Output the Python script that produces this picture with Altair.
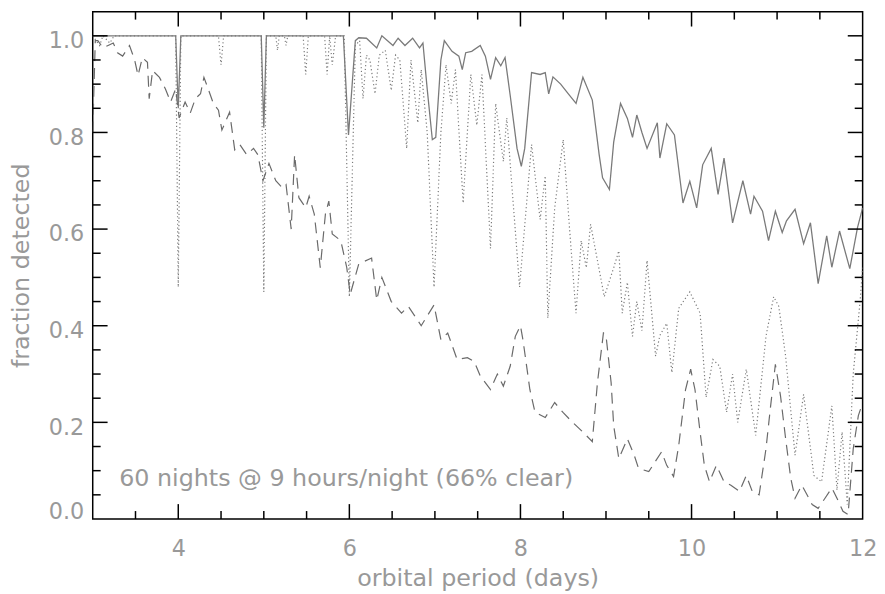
import altair as alt
import pandas as pd

# ---------------- data ----------------
solid_x = [3.0, 3.97, 4.0, 4.03, 4.97, 5.0, 5.03, 5.93, 5.99, 6.07, 6.11, 6.2, 6.32, 6.38, 6.51, 6.57,
           6.65, 6.74, 6.82, 6.86, 6.91, 6.97, 7.01, 7.07, 7.11, 7.20, 7.28, 7.32, 7.36, 7.43, 7.53,
           7.59, 7.65, 7.71, 7.77, 7.82, 7.88, 7.96, 8.01, 8.05, 8.13, 8.23, 8.29, 8.33, 8.38, 8.47,
           8.56, 8.65, 8.73, 8.84, 8.92, 8.96, 9.04, 9.09, 9.17, 9.25, 9.31, 9.36, 9.42, 9.48, 9.60,
           9.63, 9.71, 9.80, 9.90, 9.98, 10.06, 10.13, 10.23, 10.31, 10.38, 10.48, 10.60, 10.69,
           10.73, 10.83, 10.90, 10.98, 11.06, 11.11, 11.21, 11.31, 11.39, 11.48, 11.58, 11.64,
           11.73, 11.85, 11.94, 12.0]
solid_y = [1.0, 1.0, 0.85, 1.0, 1.0, 0.81, 1.0, 1.0, 0.795, 0.99, 0.996, 0.995, 0.975, 1.0, 0.98, 0.995,
           0.98, 0.995, 0.975, 0.985, 0.89, 0.785, 0.79, 0.95, 0.99, 0.968, 0.958, 0.93, 0.965, 0.968, 0.98,
           0.958, 0.91, 0.955, 0.938, 0.955, 0.877, 0.767, 0.73, 0.767, 0.924, 0.92, 0.924, 0.88, 0.915, 0.90,
           0.88, 0.86, 0.914, 0.867, 0.754, 0.706, 0.682, 0.78, 0.86, 0.829, 0.79, 0.836, 0.80, 0.767, 0.82,
           0.747, 0.818, 0.795, 0.654, 0.699, 0.644, 0.733, 0.767, 0.672, 0.747, 0.613, 0.70, 0.631,
           0.668, 0.637, 0.576, 0.637, 0.593, 0.617, 0.641, 0.57, 0.613, 0.487, 0.586, 0.521,
           0.596, 0.518, 0.603, 0.644]

dotted_x = [3.0, 3.08, 3.12, 3.2, 3.25, 3.97, 4.0, 4.03, 4.47, 4.5, 4.53, 4.97, 5.0, 5.03, 5.14, 5.16,
            5.18, 5.24, 5.26, 5.28, 5.46, 5.49, 5.52, 5.71, 5.74, 5.77, 5.80, 5.84, 5.94, 6.0, 6.07,
            6.12, 6.16, 6.20, 6.24, 6.30, 6.35, 6.42, 6.49, 6.54, 6.59, 6.67, 6.72, 6.80, 6.84, 6.91,
            6.99, 7.07, 7.13, 7.19, 7.24, 7.33, 7.42, 7.49, 7.55, 7.65, 7.71, 7.80, 7.84, 7.99, 8.13,
            8.23, 8.29, 8.32, 8.40, 8.50, 8.57, 8.65, 8.71, 8.77, 8.82, 8.98, 9.09, 9.15, 9.19, 9.25,
            9.31, 9.36, 9.42, 9.48, 9.58, 9.63, 9.71, 9.77, 9.85, 9.98, 10.10, 10.17, 10.25, 10.33,
            10.41, 10.48, 10.54, 10.64, 10.75, 10.87, 10.96, 11.02, 11.10, 11.21, 11.31, 11.43,
            11.52, 11.64, 11.70, 11.76, 11.82, 11.89, 11.97, 12.0]
dotted_y = [1.0, 0.98, 1.0, 0.985, 1.0, 1.0, 0.48, 1.0, 1.0, 0.94, 1.0, 1.0, 0.47, 1.0, 1.0, 0.97,
            1.0, 1.0, 0.98, 1.0, 1.0, 0.92, 1.0, 1.0, 0.92, 1.0, 0.94, 1.0, 1.0, 0.46, 0.98,
            0.99, 0.87, 0.96, 0.95, 0.88, 0.96, 0.97, 0.887, 0.96, 0.95, 0.767, 0.95, 0.82, 0.93, 0.80,
            0.48, 0.80, 0.94, 0.86, 0.93, 0.654, 0.92, 0.815, 0.92, 0.56, 0.86, 0.74, 0.83, 0.48, 0.775,
            0.62, 0.71, 0.416, 0.644, 0.785, 0.61, 0.426, 0.576, 0.52, 0.61, 0.46, 0.52, 0.555, 0.426, 0.49,
            0.378, 0.45, 0.39, 0.535, 0.337, 0.38, 0.405, 0.303, 0.436, 0.47, 0.426, 0.252, 0.33, 0.316,
            0.221, 0.30, 0.20, 0.31, 0.173, 0.378, 0.46, 0.44, 0.337, 0.132, 0.258, 0.09,
            0.077, 0.234, 0.06, 0.18, 0.03, 0.30, 0.45, 0.52]

dashed_x = [3.0, 3.03, 3.06, 3.12, 3.18, 3.24, 3.29, 3.35, 3.43, 3.49, 3.53, 3.58, 3.64, 3.66, 3.70,
            3.78, 3.85, 3.91, 3.97, 4.01, 4.08, 4.14, 4.20, 4.26, 4.30, 4.35, 4.41, 4.47, 4.51, 4.60,
            4.66, 4.72, 4.80, 4.88, 4.93, 4.99, 5.06, 5.14, 5.22, 5.26, 5.32, 5.36, 5.41, 5.49, 5.53,
            5.59, 5.66, 5.72, 5.76, 5.80, 5.90, 5.97, 6.01, 6.11, 6.26, 6.32, 6.38, 6.49, 6.61, 6.69,
            6.84, 6.99, 7.07, 7.15, 7.26, 7.38, 7.46, 7.53, 7.65, 7.73, 7.80, 7.88, 7.94, 8.0, 8.03,
            8.11, 8.17, 8.29, 8.40, 8.50, 8.61, 8.73, 8.84, 8.90, 8.97, 9.0, 9.06, 9.09, 9.15, 9.25,
            9.33, 9.38, 9.50, 9.65, 9.71, 9.79, 9.85, 9.93, 9.99, 10.04, 10.10, 10.15, 10.21, 10.29,
            10.38, 10.46, 10.56, 10.64, 10.71, 10.79, 10.87, 10.92, 10.98, 11.04, 11.10, 11.16, 11.21,
            11.29, 11.35, 11.41, 11.48, 11.56, 11.64, 11.70, 11.77, 11.83, 11.89, 11.95, 12.0]
dashed_y = [0.80, 0.99, 0.99, 0.975, 0.98, 0.985, 0.965, 0.958, 0.98, 0.95, 0.918, 0.955, 0.945, 0.87, 0.928,
            0.914, 0.89, 0.863, 0.89, 0.83, 0.863, 0.84, 0.87, 0.88, 0.914, 0.89, 0.86, 0.846, 0.805, 0.842,
            0.764, 0.775, 0.754, 0.767, 0.754, 0.70, 0.736, 0.70, 0.685, 0.692, 0.60, 0.754, 0.665, 0.644, 0.668,
            0.631, 0.52, 0.631, 0.658, 0.59, 0.576, 0.52, 0.465, 0.528, 0.54, 0.453, 0.50, 0.45, 0.426, 0.44,
            0.40, 0.443, 0.371, 0.385, 0.33, 0.334, 0.326, 0.296, 0.268, 0.30, 0.275, 0.316, 0.378, 0.40, 0.37,
            0.268, 0.221, 0.21, 0.241, 0.22, 0.20, 0.18, 0.16, 0.282, 0.385, 0.38, 0.282, 0.193, 0.125, 0.166,
            0.132, 0.105, 0.098, 0.139, 0.111, 0.088, 0.152, 0.268, 0.31, 0.268, 0.18, 0.111, 0.077, 0.111,
            0.077, 0.07, 0.057, 0.09, 0.057, 0.05, 0.145, 0.227, 0.32, 0.255, 0.166, 0.084, 0.043,
            0.07, 0.05, 0.03, 0.022, 0.043, 0.064, 0.043, 0.016, 0.009, 0.145, 0.214, 0.24]

x_labels = [4, 6, 8, 10, 12]
y_labels = [0.0, 0.2, 0.4, 0.6, 0.8, 1.0]
x_major_ticks = [4, 6, 8, 10]
x_minor_ticks = [3.5, 4.5, 5, 5.5, 6.5, 7, 7.5, 8.5, 9, 9.5, 10.5, 11, 11.5]
y_major_ticks = [0.2, 0.4, 0.6, 0.8, 1.0]
y_minor_ticks = [0.05, 0.1, 0.15, 0.25, 0.3, 0.35, 0.45, 0.5, 0.55, 0.65, 0.7, 0.75, 0.85, 0.9, 0.95]

note_text = ["60 nights @ 9 hours/night (66% clear)"]
note_x = [3.31]
note_y = [0.0677]

# ---------------- chart ----------------
W, H = 777, 512
FONT = "DejaVu Sans"
GRAY = "#999999"
LINE = "#7a7a7a"

xs = alt.Scale(domain=[3, 12], nice=False, zero=False)
ys = alt.Scale(domain=[0, 1.05], nice=False, zero=False)

x_axis = alt.Axis(values=x_labels, format="d", ticks=False, tickSize=0, domain=False, grid=False,
                  labelPadding=19, labelFontSize=22.5, labelColor=GRAY, labelFont=FONT, labelFlush=False,
                  title="orbital period (days)", titleFontSize=24, titleColor=GRAY, titleFont=FONT,
                  titleFontWeight="normal", titleBaseline="alphabetic", titleY=67)
y_axis = alt.Axis(values=y_labels, format=".1f", ticks=False, tickSize=0, domain=False, grid=False,
                  labelPadding=9, labelFontSize=22.5, labelColor=GRAY, labelFont=FONT, labelOffset=5,
                  labelFlush=True, labelFlushOffset=0,
                  title="fraction detected", titleFontSize=24, titleColor=GRAY, titleFont=FONT,
                  titleFontWeight="normal", titleBaseline="alphabetic", titleX=-65, titleY=256)

solid_df = pd.DataFrame({"period": solid_x, "frac": solid_y})
dotted_df = pd.DataFrame({"period": dotted_x, "frac": dotted_y})
dashed_df = pd.DataFrame({"period": dashed_x, "frac": dashed_y})

solid = alt.Chart(solid_df).mark_line(color=LINE, strokeWidth=1.3, clip=True).encode(
    x=alt.X("period:Q", scale=xs, axis=x_axis),
    y=alt.Y("frac:Q", scale=ys, axis=y_axis),
)
dotted = alt.Chart(dotted_df).mark_line(color=LINE, strokeWidth=1.2, strokeDash=[1.2, 2.6], clip=True).encode(
    x=alt.X("period:Q", scale=xs, axis=None),
    y=alt.Y("frac:Q", scale=ys, axis=None),
)
dashed = alt.Chart(dashed_df).mark_line(color="#6a6a6a", strokeWidth=1.2, strokeDash=[11, 7], clip=True).encode(
    x=alt.X("period:Q", scale=xs, axis=None),
    y=alt.Y("frac:Q", scale=ys, axis=None),
)


def xticks(vals, y0, y1):
    return alt.Chart(pd.DataFrame({"t": vals})).mark_rule(color="black", strokeWidth=1.5).encode(
        x=alt.X("t:Q", scale=xs, axis=None), y=alt.value(y0), y2=alt.value(y1))


def yticks(vals, x0, x1):
    return alt.Chart(pd.DataFrame({"t": vals})).mark_rule(color="black", strokeWidth=1.5).encode(
        y=alt.Y("t:Q", scale=ys, axis=None), x=alt.value(x0), x2=alt.value(x1))


MAJ, MIN = 15, 8
ticks = [
    xticks(x_major_ticks, H, H - MAJ), xticks(x_minor_ticks, H, H - MIN),
    xticks(x_major_ticks, 0, MAJ), xticks(x_minor_ticks, 0, MIN),
    yticks(y_major_ticks, 0, MAJ), yticks(y_minor_ticks, 0, MIN),
    yticks(y_major_ticks, W, W - MAJ), yticks(y_minor_ticks, W, W - MIN),
]

note = alt.Chart(pd.DataFrame({"x": note_x, "y": note_y, "t": note_text})).mark_text(
    align="left", baseline="alphabetic", fontSize=24, font=FONT, color=GRAY).encode(
    x=alt.X("x:Q", scale=xs, axis=None), y=alt.Y("y:Q", scale=ys, axis=None), text="t:N")

chart = alt.layer(solid, dotted, dashed, *ticks, note).resolve_axis(
    x="independent", y="independent"
).properties(
    width=W, height=H,
    autosize=alt.AutoSizeParams(type="none"),
    padding={"left": 85.5, "top": 1, "right": 14.5, "bottom": 72},
).configure_view(stroke="black", strokeWidth=1.5)

chart.save("out.html", embed_options={"renderer": "svg", "actions": False})
